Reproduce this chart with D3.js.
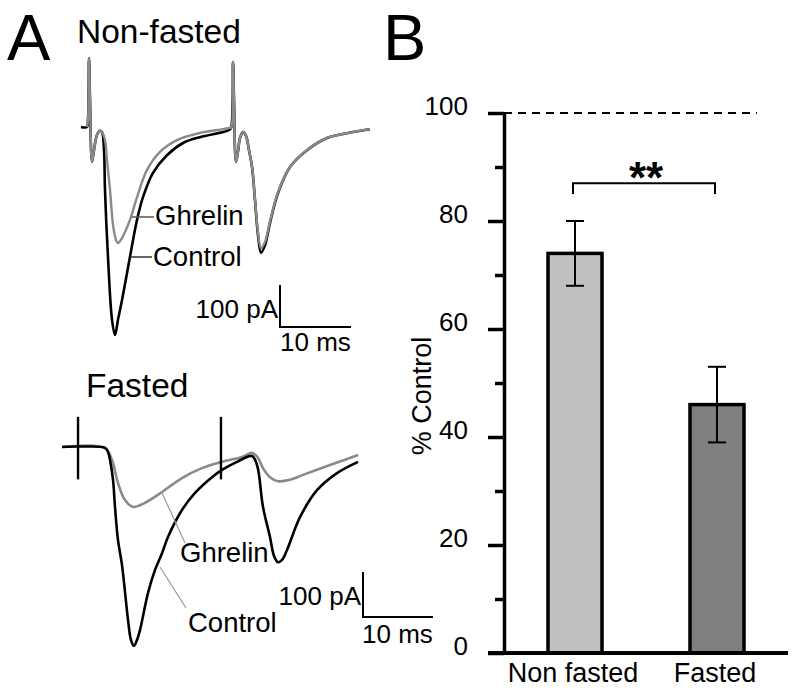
<!DOCTYPE html>
<html>
<head>
<meta charset="utf-8">
<script src="https://cdn.jsdelivr.net/npm/d3@7"></script>
<style>
  html, body { margin: 0; padding: 0; background: #fff; }
  svg { display: block; font-family: "Liberation Sans", Arial, sans-serif; }
</style>
</head>
<body>
<svg id="chart" width="800" height="696"></svg>
<script>
// ---------- Panel A data: traces as [time (ms), current (pA)] ----------
const nonFastedControl = [
  [0.14,7],[0.99,7],[1.13,24],[1.27,171],[1.41,71],[1.69,-76],[1.97,-48],[2.39,-12],[2.82,-2],[3.10,-5],
  [3.38,-48],[3.52,-143],[3.94,-302],[4.51,-452],[4.93,-488],[5.35,-452],[5.92,-405],[7.04,-302],[8.03,-214],
  [8.87,-160],[10.28,-102],[12.25,-60],[14.51,-31],[16.9,-17],[20.14,-5],[20.99,0],
  [21.27,5],[21.55,162],[21.69,71],[21.97,-76],[22.25,-52],[22.54,-19],[22.96,-5],[23.38,-14],[23.80,-48],
  [24.23,-88],[24.65,-167],[25.07,-250],[25.49,-292],[26.06,-274],[26.76,-221],[27.89,-150],[29.58,-88],
  [31.97,-48],[34.79,-19],[38.45,-5],[40.85,2]
];
const nonFastedGhrelin = [
  [0.99,7],[1.13,24],[1.27,171],[1.41,71],[1.69,-76],[1.97,-48],[2.39,-12],[2.82,-2],[3.10,-5],
  [3.52,-24],[3.80,-71],[4.23,-143],[4.65,-226],[5.07,-262],[5.35,-269],[5.92,-257],[7.04,-214],[8.03,-160],
  [9.44,-95],[11.27,-52],[13.66,-24],[16.9,-7],[20.14,2],[20.99,5],
  [21.27,5],[21.55,162],[21.69,71],[21.97,-76],[22.25,-52],[22.54,-19],[22.96,-5],[23.38,-14],[23.80,-48],
  [24.23,-88],[24.65,-165],[25.07,-243],[25.49,-281],[26.06,-266],[26.76,-217],[27.89,-148],[29.58,-88],
  [31.97,-48],[34.79,-19],[38.45,-5],[40.85,2]
];
const fastedControl = [
  [0,0],[3,1],[6.14,-2],[6.57,-11],[6.86,-29],[7.29,-73],[7.57,-133],[8.0,-207],[8.57,-262],[9.43,-384],
  [9.86,-429],[10.29,-442],[10.71,-429],[11.14,-407],[12.29,-324],[13.29,-273],[14.29,-236],[15.14,-200],
  [17.14,-140],[19.0,-102],[21.43,-67],[22.86,-51],[25.0,-33],[27.14,-20],[27.86,-40],[28.71,-133],
  [29.71,-200],[30.29,-242],[30.86,-256],[31.43,-251],[32.14,-229],[34.0,-156],[36.43,-96],[39.29,-58],[42.29,-33]
];
const fastedGhrelin = [
  [0,0],[6.14,-2],[7.14,-29],[8.0,-80],[9.0,-118],[10.14,-133],[11.86,-124],[14.29,-100],[17.14,-69],
  [20.0,-47],[22.86,-33],[25.71,-22],[27.14,-13],[28.0,-24],[28.71,-47],[29.71,-67],[30.86,-76],
  [32.57,-73],[34.43,-62],[38.29,-40],[42.29,-18]
];
const fastedStimTimes = [2.29, 22.71];
const fastedStimRange = [67, -72];

// ---------- Panel B data ----------
const categories = ["Non fasted", "Fasted"];
const meanValues = [74, 46];
const errValues = [6, 7];
const barColors = ["#c0c0c0", "#808080"];
const majorTicks = [0, 20, 40, 60, 80, 100];
const minorTicks = [10, 30, 50, 70, 90];
const referenceLevel = 100;
const bracketLevel = 87;
const sigLabel = "**";

const svg = d3.select("#chart");
const FONT = "'Liberation Sans', Arial, sans-serif";
const GRAY = "#8a8a8a";
const LABEL = 27.5;

// Panel letters
svg.append("text").attr("x", 7).attr("y", 60).attr("font-size", 65).text("A");
svg.append("text").attr("x", 383).attr("y", 60).attr("font-size", 65).text("B");

// ---------------- Panel A top (Non-fasted) ----------------
const xTop = d3.scaleLinear().domain([0, 10]).range([80, 151]);
const yTop = d3.scaleLinear().domain([0, -100]).range([130, 172]);
const lineTop = d3.line().x(d => xTop(d[0])).y(d => yTop(d[1])).curve(d3.curveCatmullRom.alpha(0.5));

svg.append("text").attr("x", 77).attr("y", 43).attr("font-size", 33.5).text("Non-fasted");

svg.append("path").datum(nonFastedControl).attr("d", lineTop)
  .attr("fill", "none").attr("stroke", "#000").attr("stroke-width", 2.6).attr("stroke-linejoin", "round");
svg.append("path").datum(nonFastedGhrelin).attr("d", lineTop)
  .attr("fill", "none").attr("stroke", GRAY).attr("stroke-width", 2.4).attr("stroke-linejoin", "round");

// labels with leaders
svg.append("line").attr("x1", 132).attr("y1", 217).attr("x2", 154).attr("y2", 217)
  .attr("stroke", "#555").attr("stroke-width", 1.5);
svg.append("text").attr("x", 155).attr("y", 225).attr("font-size", LABEL).text("Ghrelin");
svg.append("line").attr("x1", 130).attr("y1", 257).attr("x2", 152).attr("y2", 257)
  .attr("stroke", "#333").attr("stroke-width", 1.5);
svg.append("text").attr("x", 153).attr("y", 266).attr("font-size", LABEL).text("Control");

// scale bar (top)
const sbTop = { t: 28.17, i: -369 };
svg.append("path")
  .attr("d", `M${xTop(sbTop.t)},${yTop(sbTop.i)} V${yTop(sbTop.i - 100)} H${xTop(sbTop.t + 10)}`)
  .attr("fill", "none").attr("stroke", "#000").attr("stroke-width", 2);
svg.append("text").attr("x", xTop(sbTop.t) - 2).attr("y", yTop(sbTop.i - 100) - 9)
  .attr("text-anchor", "end").attr("font-size", 26).text("100 pA");
svg.append("text").attr("x", xTop(sbTop.t)).attr("y", yTop(sbTop.i - 100) + 24)
  .attr("font-size", 26).text("10 ms");

// ---------------- Panel A bottom (Fasted) ----------------
const xBot = d3.scaleLinear().domain([0, 10]).range([62, 132]);
const yBot = d3.scaleLinear().domain([0, -100]).range([447, 492]);
const lineBot = d3.line().x(d => xBot(d[0])).y(d => yBot(d[1])).curve(d3.curveCatmullRom.alpha(0.5));

svg.append("text").attr("x", 86).attr("y", 397).attr("font-size", 33.5).text("Fasted");

svg.append("path").datum(fastedGhrelin).attr("d", lineBot)
  .attr("fill", "none").attr("stroke", GRAY).attr("stroke-width", 2.6);
svg.append("path").datum(fastedControl).attr("d", lineBot)
  .attr("fill", "none").attr("stroke", "#000").attr("stroke-width", 2.6);
svg.selectAll("line.stim").data(fastedStimTimes).join("line").attr("class", "stim")
  .attr("x1", d => xBot(d)).attr("x2", d => xBot(d))
  .attr("y1", yBot(fastedStimRange[0])).attr("y2", yBot(fastedStimRange[1]))
  .attr("stroke", "#000").attr("stroke-width", 2.4);

svg.append("line").attr("x1", 162).attr("y1", 493).attr("x2", 185).attr("y2", 543)
  .attr("stroke", "#999").attr("stroke-width", 1.2);
svg.append("text").attr("x", 180).attr("y", 562).attr("font-size", LABEL).text("Ghrelin");
svg.append("line").attr("x1", 160).attr("y1", 567).attr("x2", 186).attr("y2", 608)
  .attr("stroke", "#999").attr("stroke-width", 1.2);
svg.append("text").attr("x", 188).attr("y", 632).attr("font-size", LABEL).text("Control");

const sbBot = { t: 43, i: -278 };
svg.append("path")
  .attr("d", `M${xBot(sbBot.t)},${yBot(sbBot.i)} V${yBot(sbBot.i - 100)} H${xBot(sbBot.t + 10)}`)
  .attr("fill", "none").attr("stroke", "#000").attr("stroke-width", 2);
svg.append("text").attr("x", xBot(sbBot.t) - 2).attr("y", yBot(sbBot.i - 100) - 12)
  .attr("text-anchor", "end").attr("font-size", 26).text("100 pA");
svg.append("text").attr("x", xBot(sbBot.t) - 1).attr("y", yBot(sbBot.i - 100) + 26)
  .attr("font-size", 26).text("10 ms");

// ---------------- Panel B ----------------
const y = d3.scaleLinear().domain([0, 100]).range([653, 113]);
const x = d3.scalePoint().domain(categories).range([504, 788]).padding(0.5);
const axisX = 504;
const barW = 54;

// reference dashed line
svg.append("line").attr("x1", axisX).attr("x2", 757).attr("y1", y(referenceLevel)).attr("y2", y(referenceLevel))
  .attr("stroke", "#000").attr("stroke-width", 2).attr("stroke-dasharray", "8,6");

// bars
categories.forEach((c, i) => {
  svg.append("rect")
    .attr("x", x(c) - barW / 2).attr("y", y(meanValues[i]))
    .attr("width", barW).attr("height", y(0) - y(meanValues[i]))
    .attr("fill", barColors[i]).attr("stroke", "#000").attr("stroke-width", 3.5);
  const cx = x(c);
  svg.append("line").attr("x1", cx).attr("x2", cx)
    .attr("y1", y(meanValues[i] - errValues[i])).attr("y2", y(meanValues[i] + errValues[i]))
    .attr("stroke", "#000").attr("stroke-width", 2);
  [meanValues[i] - errValues[i], meanValues[i] + errValues[i]].forEach(v => {
    svg.append("line").attr("x1", cx - 9).attr("x2", cx + 9).attr("y1", y(v)).attr("y2", y(v))
      .attr("stroke", "#000").attr("stroke-width", 2);
  });
});

// y axis
const gMajor = svg.append("g").attr("transform", `translate(${axisX},0)`)
  .call(d3.axisLeft(y).tickValues(majorTicks).tickSize(16).tickSizeOuter(0).tickPadding(20));
gMajor.select(".domain").attr("stroke-width", 3.5);
gMajor.selectAll(".tick line").attr("stroke-width", 3.5);
gMajor.selectAll(".tick text").attr("font-size", 26).attr("font-family", FONT).attr("dy", "0.05em");
const gMinor = svg.append("g").attr("transform", `translate(${axisX},0)`)
  .call(d3.axisLeft(y).tickValues(minorTicks).tickSize(9).tickFormat(""));
gMinor.select(".domain").remove();
gMinor.selectAll(".tick line").attr("stroke-width", 3.5);

// baseline
svg.append("line").attr("x1", 488).attr("x2", 788).attr("y1", y(0)).attr("y2", y(0))
  .attr("stroke", "#000").attr("stroke-width", 4);

// x labels
svg.selectAll("text.xl").data(categories).join("text").attr("class", "xl")
  .attr("x", d => x(d) - 2).attr("y", 682).attr("text-anchor", "middle").attr("font-size", 27).text(d => d);

// y label
svg.append("text").attr("transform", "translate(431,396) rotate(-90)")
  .attr("text-anchor", "middle").attr("font-size", 27).text("% Control");

// significance bracket
const bx1 = x(categories[0]) - 2, bx2 = x(categories[1]) - 2;
svg.append("path")
  .attr("d", `M${bx1},${y(bracketLevel - 2)} V${y(bracketLevel)} H${bx2} V${y(bracketLevel - 2)}`)
  .attr("fill", "none").attr("stroke", "#000").attr("stroke-width", 2);
svg.append("text").attr("x", (bx1 + bx2) / 2 + 2).attr("y", y(bracketLevel) + 10)
  .attr("text-anchor", "middle").attr("font-size", 44).attr("font-weight", "bold").text(sigLabel);
</script>
</body>
</html>
